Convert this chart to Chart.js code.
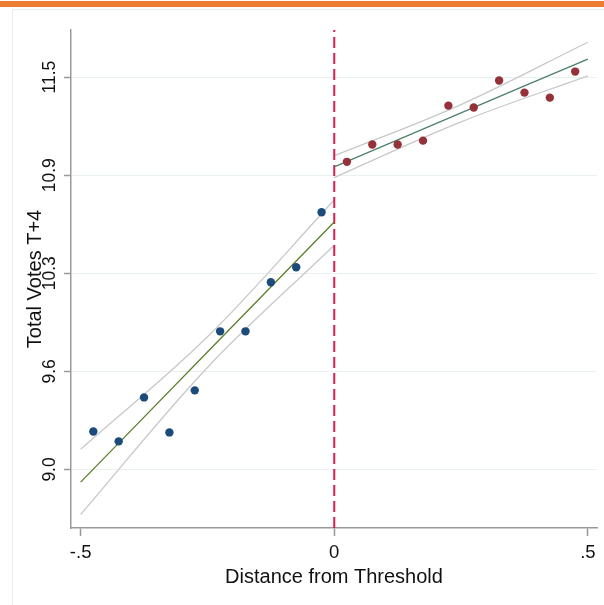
<!DOCTYPE html>
<html>
<head>
<meta charset="utf-8">
<script src="https://cdn.jsdelivr.net/npm/chart.js@4"></script>
<style>
  body { margin: 0; background: #fff; overflow: hidden; }
  #bar { position: absolute; left: 0; top: 1px; width: 604px; height: 6px; background: #ec7c30; }
  #frame { position: absolute; left: 12px; top: 9px; width: 700px; height: 700px; border: 1px solid #e6eeec; }
  #chart { position: absolute; left: 0; top: 0; }
</style>
</head>
<body>
<div id="bar"></div>
<div id="frame"></div>
<canvas id="chart" width="604" height="605"></canvas>
<script>
// bin centres and bin means
const leftX = [-0.475, -0.425, -0.375, -0.325, -0.275, -0.225, -0.175, -0.125, -0.075, -0.025];
const leftY = [9.242, 9.179, 9.459, 9.236, 9.504, 9.880, 9.880, 10.193, 10.288, 10.639];
const rightX = [0.025, 0.075, 0.125, 0.175, 0.225, 0.275, 0.325, 0.375, 0.425, 0.475];
const rightY = [10.960, 11.070, 11.070, 11.095, 11.318, 11.306, 11.478, 11.401, 11.369, 11.535];

// fitted lines and confidence bands
const leftFitX = [-0.5, -0.25, 0];
const leftFit = [8.919, 9.748, 10.577];
const leftUpper = [9.128, 9.845, 10.717];
const leftLower = [8.713, 9.650, 10.429];
const rightFitX = [0, 0.25, 0.5];
const rightFit = [10.928, 11.272, 11.615];
const rightUpper = [10.998, 11.325, 11.722];
const rightLower = [10.860, 11.215, 11.508];

const threshold = 0;
const yMin = 8.627, yMax = 11.8;
const xTicks = [-0.5, 0, 0.5];
const xTickLabels = ['-.5', '0', '.5'];
const yTicks = [9, 9.625, 10.25, 10.875, 11.5];
const yTickLabels = ['9.0', '9.6', '10.3', '10.9', '11.5'];

const pts = (xs, ys) => xs.map((x, i) => ({ x: x, y: ys[i] }));
const font = 'Liberation Sans, Arial, sans-serif';

function lineSet(data, color, width, order) {
    return {
        data: data, showLine: true, borderColor: color, borderWidth: width,
        pointRadius: 0, tension: 0.35, order: order
    };
}

const ctx = document.getElementById('chart').getContext('2d');
const myChart = new Chart(ctx, {
    type: 'scatter',
    data: {
        datasets: [
            { data: pts(leftX, leftY), backgroundColor: '#1b4b7b', borderWidth: 0, pointRadius: 4.2, order: 0 },
            { data: pts(rightX, rightY), backgroundColor: '#953239', borderWidth: 0, pointRadius: 4.2, order: 0 },
            lineSet(pts(leftFitX, leftFit), '#5a7f2b', 1.3, 1),
            lineSet(pts(rightFitX, rightFit), '#4f7f6b', 1.3, 1),
            lineSet(pts(leftFitX, leftUpper), '#c8c8c8', 1.3, 2),
            lineSet(pts(leftFitX, leftLower), '#c8c8c8', 1.3, 2),
            lineSet(pts(rightFitX, rightUpper), '#c8c8c8', 1.3, 2),
            lineSet(pts(rightFitX, rightLower), '#c8c8c8', 1.3, 2),
            {
                data: [{ x: threshold, y: yMin }, { x: threshold, y: yMax }],
                showLine: true, borderColor: '#d81f4d', borderWidth: 2,
                borderDash: [11, 5], pointRadius: 0, order: 1
            }
        ]
    },
    options: {
        responsive: false,
        animation: false,
        devicePixelRatio: 1,
        layout: { padding: { left: 0, top: 30, right: 7, bottom: 0 } },
        plugins: { legend: { display: false }, tooltip: { enabled: false } },
        scales: {
            x: {
                type: 'linear', min: -0.519, max: 0.518,
                afterBuildTicks: s => { s.ticks = xTicks.map(v => ({ value: v })); },
                afterFit: s => { s.height = 77; },
                grid: { color: 'rgba(0,0,0,0)', tickColor: '#999', tickLength: 8, tickWidth: 1.5 },
                border: { color: '#999', width: 1.5 },
                ticks: {
                    autoSkip: false, maxRotation: 0, padding: 6, color: '#111',
                    font: { family: font, size: 18.5 },
                    callback: (v, i) => xTickLabels[i]
                },
                title: {
                    display: true, text: 'Distance from Threshold', color: '#111',
                    font: { family: font, size: 20 }, padding: { top: 0, bottom: 16 }
                }
            },
            y: {
                type: 'linear', min: yMin, max: yMax,
                afterBuildTicks: s => { s.ticks = yTicks.map(v => ({ value: v })); },
                afterFit: s => { s.width = 71; },
                grid: { color: '#e9f1ef', lineWidth: 1, tickColor: '#999', tickLength: 7, tickWidth: 1.5 },
                border: { color: '#999', width: 1.5 },
                ticks: {
                    autoSkip: false, minRotation: 90, maxRotation: 90, crossAlign: 'center',
                    padding: -3, color: '#111',
                    font: { family: font, size: 17.5 },
                    callback: (v, i) => yTickLabels[i]
                },
                title: {
                    display: true, text: 'Total Votes T+4', color: '#111',
                    font: { family: font, size: 20 }, padding: { top: 23, bottom: 0 }
                }
            }
        }
    }
});
</script>
</body>
</html>
